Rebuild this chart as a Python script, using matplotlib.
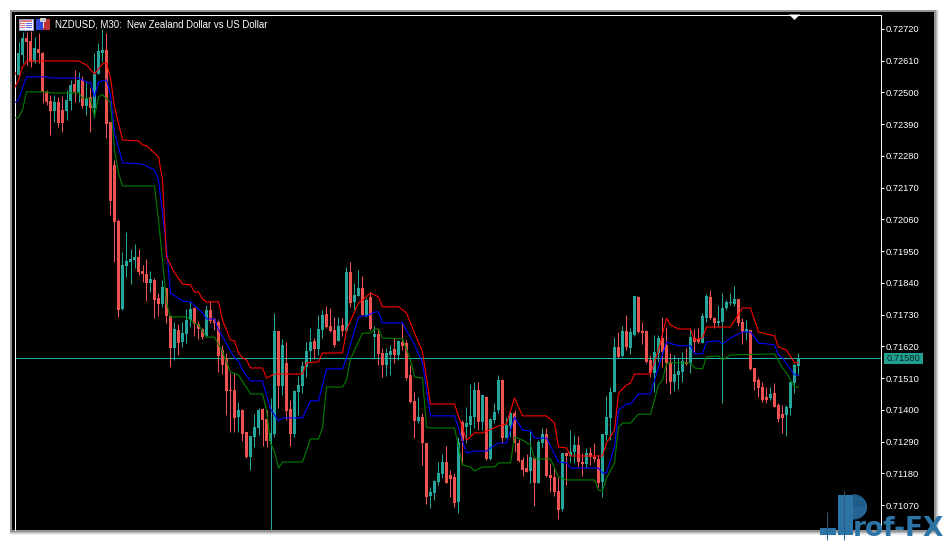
import matplotlib
matplotlib.use('Agg')
import matplotlib.pyplot as plt
from matplotlib.patches import Rectangle, Polygon, Wedge
import numpy as np

# prices are in points (1e-5)
opens = [72571,72561,72630,72689,72678,72606,72650,72637,72502,72471,
 72436,72467,72439,72436,72471,72529,72502,72543,72453,72485,
 72446,72564,72637,72647,72398,72249,72054,71750,71899,71912,
 71919,71930,71881,71871,71840,71850,71788,71767,71822,71725,
 71614,71677,71635,71663,71711,71753,71697,71680,71656,71746,
 71715,71704,71607,71580,71469,71469,71375,71399,71323,71236,
 71306,71337,71403,71368,71292,71316,71673,71483,71563,71403,
 71316,71462,71483,71549,71604,71639,71611,71677,71732,71691,
 71677,71639,71694,71673,71878,71774,71795,71822,71725,71791,
 71652,71663,71597,71556,71590,71611,71590,71635,71632,71521,
 71431,71361,71375,71285,71101,71112,71150,71177,71219,71174,
 71167,71080,71358,71340,71347,71375,71469,71358,71445,71230,
 71365,71399,71503,71302,71344,71389,71285,71226,71198,71188,
 71233,71147,71285,71316,71174,71167,71119,71056,71251,71240,
 71254,71278,71219,71212,71251,71236,71230,71150,71313,71372,
 71462,71618,71587,71673,71614,71660,71791,71673,71673,71573,
 71528,71597,71649,71625,71566,71496,71521,71531,71566,71563,
 71649,71646,71632,71718,71791,71718,71701,71704,71753,71770,
 71767,71784,71704,71670,71677,71545,71503,71479,71445,71441,
 71458,71417,71385,71382,71406,71493,71552]
highs = [72578,72675,72710,72710,72714,72693,72707,72640,72509,72492,
 72492,72485,72488,72509,72543,72578,72571,72557,72536,72516,
 72637,72671,72720,72707,72398,72266,72061,71947,72016,71957,
 71975,71957,71902,71923,71881,71857,71805,71850,71822,71729,
 71704,71697,71704,71749,71774,71757,71708,71684,71764,71777,
 71722,71711,71625,71597,71528,71528,71427,71403,71323,71309,
 71385,71406,71406,71399,71441,71736,71673,71646,71635,71434,
 71469,71517,71570,71635,71684,71649,71729,71746,71760,71753,
 71722,71722,71718,71895,71912,71840,71885,71864,71788,71808,
 71691,71680,71614,71614,71625,71649,71642,71701,71642,71556,
 71462,71445,71389,71285,71133,71157,71219,71247,71274,71191,
 71181,71306,71365,71410,71490,71496,71496,71452,71448,71372,
 71424,71521,71507,71375,71396,71399,71299,71236,71247,71330,
 71236,71295,71337,71337,71216,71198,71167,71251,71254,71330,
 71313,71309,71251,71268,71271,71285,71243,71316,71448,71479,
 71652,71670,71691,71729,71684,71795,71795,71704,71677,71590,
 71660,71660,71722,71687,71597,71590,71580,71601,71614,71680,
 71680,71684,71736,71802,71815,71722,71764,71805,71781,71805,
 71829,71784,71718,71711,71677,71545,71514,71496,71479,71479,
 71493,71424,71417,71417,71496,71563,71597]
lows = [72550,72550,72602,72595,72588,72602,72602,72464,72457,72353,
 72398,72381,72363,72405,72439,72467,72467,72446,72422,72363,
 72412,72564,72606,72342,72075,71912,71722,71746,71860,71836,
 71892,71867,71843,71777,71808,71718,71725,71757,71701,71549,
 71573,71590,71618,71632,71687,71656,71645,71645,71652,71701,
 71677,71531,71524,71382,71323,71323,71323,71292,71233,71191,
 71271,71313,71274,71271,70983,71306,71406,71452,71365,71274,
 71306,71382,71458,71514,71566,71576,71590,71649,71684,71670,
 71618,71639,71656,71670,71757,71746,71795,71729,71722,71677,
 71580,71556,71514,71517,71521,71563,71573,71607,71503,71424,
 71302,71354,71209,71073,71060,71087,71140,71163,71147,71098,
 71063,71042,71209,71285,71313,71337,71330,71330,71226,71226,
 71354,71389,71285,71302,71306,71254,71219,71170,71184,71147,
 71067,71147,71271,71167,71115,71101,71021,71049,71140,71219,
 71216,71202,71170,71198,71209,71219,71133,71098,71295,71295,
 71462,71580,71583,71607,71594,71656,71666,71628,71563,71514,
 71462,71566,71549,71493,71455,71465,71472,71496,71556,71528,
 71601,71632,71632,71704,71715,71684,71687,71424,71746,71764,
 71760,71691,71628,71642,71538,71469,71445,71427,71424,71434,
 71410,71358,71320,71309,71382,71458,71521]
closes = [72561,72637,72689,72675,72606,72654,72637,72502,72467,72436,
 72467,72395,72395,72474,72526,72502,72543,72453,72481,72446,
 72564,72644,72647,72391,72124,72051,71746,71902,71916,71923,
 71930,71878,71871,71840,71854,71781,71767,71826,71725,71614,
 71680,71632,71666,71711,71749,71697,71680,71652,71746,71708,
 71701,71587,71556,71465,71465,71372,71399,71316,71236,71309,
 71340,71399,71365,71292,71320,71673,71483,71625,71396,71316,
 71465,71486,71552,71604,71635,71611,71680,71729,71687,71673,
 71625,71691,71673,71878,71770,71798,71822,71729,71781,71680,
 71663,71594,71556,71597,71604,71590,71639,71622,71510,71427,
 71361,71375,71285,71098,71115,71153,71181,71219,71147,71160,
 71077,71288,71292,71354,71379,71469,71358,71452,71230,71368,
 71392,71503,71302,71347,71389,71285,71223,71191,71184,71236,
 71147,71288,71316,71170,71163,71115,71053,71251,71240,71254,
 71278,71219,71212,71251,71236,71230,71147,71316,71375,71462,
 71618,71583,71673,71618,71670,71795,71670,71666,71566,71528,
 71601,71649,71601,71563,71496,71524,71535,71570,71559,71653,
 71635,71635,71725,71795,71718,71701,71708,71753,71774,71774,
 71784,71701,71670,71680,71542,71496,71476,71434,71434,71455,
 71410,71368,71372,71410,71496,71556,71580]

red_idx = [0,1,2,3,16,18,20,22,23,24,25,27,31,32,33,36,37,38,40,42,44,45,46,47,48,51,52,54,55,56,57,58,59,62,63,65,72,73,76,77,82,83,86,87,89,91,92,96,98,100,102,104,110,113,115,117,121,123,125,127,133,135,136,138,139,147,148,150,151,153,154,155,159,161,163,164,166,169,170,172,173,179,182,184,186,190,191,193,195,196]
red_band = [72516,72543,72588,72609,72609,72595,72564,72599,72602,72550,72450,72335,72332,72318,72315,72277,72197,71930,71875,71836,71833,71808,71808,71784,71774,71774,71711,71642,71639,71597,71580,71573,71545,71545,71510,71524,71524,71563,71566,71597,71597,71677,71770,71781,71805,71791,71757,71757,71736,71666,71601,71420,71420,71295,71320,71320,71344,71351,71441,71379,71379,71354,71271,71268,71240,71240,71285,71330,71458,71486,71493,71524,71524,71607,71718,71694,71680,71680,71642,71649,71687,71687,71753,71753,71670,71656,71618,71607,71563,71563]
blue_idx = [0,1,2,3,8,9,16,18,19,20,21,23,24,25,27,32,35,36,38,39,42,44,47,48,50,51,55,56,57,59,62,64,66,67,72,74,76,78,82,83,86,87,88,90,91,92,97,100,102,104,110,113,115,118,119,121,123,125,127,129,130,133,136,138,139,146,147,148,150,151,153,154,156,159,161,163,166,169,170,172,173,176,177,179,182,184,186,190,191,192,195,196]
blue_band = [72464,72474,72516,72554,72554,72550,72550,72536,72533,72485,72536,72543,72492,72360,72256,72252,72231,72197,71965,71805,71777,71774,71736,71715,71715,71677,71580,71570,71538,71500,71500,71403,71361,71372,71372,71431,71431,71542,71542,71580,71722,71725,71725,71739,71739,71701,71701,71625,71563,71379,71379,71250,71257,71257,71268,71285,71285,71375,71330,71327,71302,71302,71219,71216,71198,71198,71181,71181,71271,71399,71420,71420,71455,71455,71549,71635,71622,71622,71594,71594,71635,71639,71628,71649,71670,71670,71632,71625,71590,71580,71521,71521]
green_idx = [0,1,2,3,8,9,16,17,19,20,21,22,24,25,26,27,35,36,37,38,39,43,45,46,48,50,52,53,54,56,59,62,63,64,65,66,67,72,74,76,77,78,82,83,84,87,89,90,91,92,97,99,100,102,103,104,110,112,114,115,117,120,121,124,125,127,129,130,134,136,138,145,146,147,148,150,151,152,154,156,159,161,162,163,164,169,170,172,173,176,177,179,190,192,193,195,196]
green_band = [72412,72412,72439,72502,72502,72498,72498,72481,72478,72415,72485,72492,72464,72301,72221,72176,72176,72058,71919,71770,71722,71722,71701,71694,71652,71652,71601,71566,71531,71521,71455,71455,71399,71285,71254,71198,71219,71219,71299,71299,71337,71479,71479,71503,71576,71666,71666,71680,71680,71649,71646,71573,71514,71510,71340,71337,71337,71209,71202,71188,71202,71202,71216,71216,71306,71295,71278,71230,71230,71167,71157,71157,71122,71119,71163,71216,71340,71354,71354,71385,71385,71486,71503,71559,71563,71563,71545,71542,71583,71587,71573,71590,71594,71545,71528,71479,71479]

tick_vals = [0.72720,0.72610,0.72500,0.72390,0.72280,0.72170,0.72060,0.71950,0.71840,0.71730,0.71620,0.71510,0.71400,0.71290,0.71180,0.71070]
title = 'NZDUSD, M30:  New Zealand Dollar vs US Dollar'

W,H = 947,541
TEAL = '#26A69A'
RED = '#EF5350'
plt.rcParams['font.family'] = 'Liberation Sans'

fig = plt.figure(figsize=(W/100,H/100),dpi=100,facecolor='white')

# window frame + shadow
bg = fig.add_axes([0,0,1,1],zorder=0)
bg.set_xlim(0,W); bg.set_ylim(H,0); bg.axis('off')
for pad,col in [(5,'#f0f0f0'),(4,'#d8d8d8'),(3,'#b8b8b8'),(2,'#949494')]:
    bg.add_patch(Rectangle((12-min(pad,2),12-min(pad,2)),922+min(pad,2)+pad,518+min(pad,2)+pad,fc=col,ec='none'))
bg.add_patch(Rectangle((12,12),922,518,fc='black',ec='none'))

# chart
ax = fig.add_axes([14.5/W,1-530/H,(881-14.5)/W,(530-14.5)/H],zorder=1,facecolor='black')
xs = np.arange(len(opens))
o,h,l,c = [np.array(a)/1e5 for a in (opens,highs,lows,closes)]
cols = [TEAL if c[i]>=o[i] else RED for i in xs]
ax.vlines(xs,l,h,colors=cols,linewidth=0.72,zorder=2)
ax.bar(xs,np.abs(c-o),bottom=np.minimum(o,c),width=0.78,color=cols,linewidth=0,zorder=3)
ax.axhline(c[-1],color='#20B2AA',linewidth=0.72,zorder=2.5)
ax.plot(green_idx,np.array(green_band)/1e5,color='#008000',linewidth=0.8,zorder=4)
ax.plot(blue_idx,np.array(blue_band)/1e5,color='#0000FF',linewidth=0.8,zorder=5)
ax.plot(red_idx,np.array(red_band)/1e5,color='#FF0000',linewidth=0.8,zorder=6)

ax.set_xlim(0,(881-14.5)/4)
ax.set_ylim(0.709835,0.72770)
ax.set_xticks([])
ax.yaxis.tick_right()
ax.set_yticks(tick_vals)
ax.set_yticklabels(['%.5f'%v for v in tick_vals])
ax.tick_params(axis='y',length=2.5,width=0.72,color='white',labelcolor='white',labelsize=6.7,pad=1)
for s in ['left','top','right']:
    ax.spines[s].set_color('white')
    ax.spines[s].set_linewidth(0.72)
ax.spines['bottom'].set_visible(False)

# overlay drawn in pixel coordinates: header, price tag, watermark
top = fig.add_axes([0,0,1,1],zorder=2)
top.set_xlim(0,W); top.set_ylim(H,0); top.axis('off'); top.patch.set_alpha(0)
top.text(55,24.5,title,color='white',fontsize=6.9,va='center',ha='left')

# table icon
top.add_patch(Rectangle((18.5,18.5),14,11.5,fc='#f4f4ff',ec='#9aa0d8',lw=0.7))
top.add_patch(Rectangle((19.5,19.5),12,2,fc='#e08080',ec='none'))
for yy in [23,25,27]:
    top.add_patch(Rectangle((19.5,yy),5,1.2,fc='#e07070',ec='none'))
    top.add_patch(Rectangle((25.5,yy),6,1.2,fc='#6070e0',ec='none'))
# strategy icon
top.add_patch(Rectangle((36,19),7,11,fc='#3048d8',ec='none'))
top.add_patch(Rectangle((43,19),6.5,11,fc='#c03030',ec='none'))
top.add_patch(Rectangle((40,18),6,4,fc='#c8c8c8',ec='none'))
top.add_patch(Rectangle((42.5,21),1.6,7,fc='#e0e0e0',ec='none'))

# last bar marker
top.add_patch(Polygon([[789,14.5],[800,14.5],[794.5,20]],fc='white',ec='none'))

# price tag
top.add_patch(Rectangle((884,353),39,10.5,fc='#20A090',ec='none'))
top.text(903.5,358.5,'%.5f'%c[-1],color='#06231f',fontsize=6.7,va='center',ha='center')

# watermark
BL = '#2C74A6'
DK = '#1F5C8A'
top.vlines(827,512,540,color='#2a5d80',linewidth=0.7)
top.vlines(844,491,540,color='#2a5d80',linewidth=0.7)
top.add_patch(Rectangle((820,528),16,7,fc=BL,ec='none'))
top.add_patch(Rectangle((838,495),17,24,fc=BL,ec='none'))
top.add_patch(Rectangle((838,519),15,16,fc=BL,ec='none'))
top.add_patch(Wedge((855,507),12,-90,90,fc=BL,ec='none'))
top.add_patch(Wedge((853,507),13,-90,0,fc=DK,ec='none'))
top.add_patch(Wedge((853,507),13,0,90,fc=DK,ec='none',alpha=0.6))
top.text(853,535.5,'rof-FX',color=BL,fontsize=19,fontweight='bold',family='DejaVu Sans',va='baseline',ha='left',clip_on=False)

fig.savefig('out.png',dpi=100,facecolor='white')
